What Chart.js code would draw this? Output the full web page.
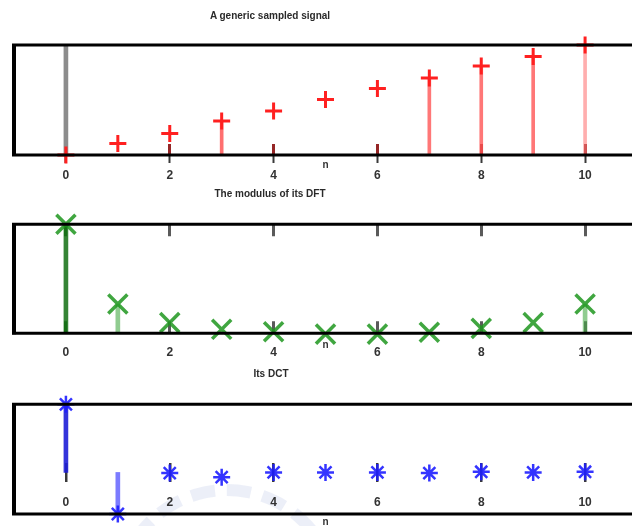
<!DOCTYPE html>
<html><head><meta charset="utf-8">
<script src="https://cdn.jsdelivr.net/npm/chart.js@4.4.1/dist/chart.umd.min.js"></script>
<style>
html,body{margin:0;padding:0;background:#fff;overflow:hidden;width:632px;height:526px;}
#wrap{position:relative;width:632px;height:526px;overflow:hidden;background:#fff;}
canvas{position:absolute;left:0;}
.t{position:absolute;font:bold 10px "Liberation Sans",Arial,sans-serif;color:#2a2a2a;transform:translate(-50%,-50%);white-space:nowrap;}
#wm{position:absolute;left:112px;top:484px;width:230px;height:230px;border-radius:50%;border:12px dashed rgba(170,182,222,0.22);box-sizing:border-box;}
</style></head><body>
<div id="wrap">
<div id="wm"></div>
<canvas id="c1" width="650" height="190" style="top:0"></canvas>
<canvas id="c2" width="650" height="180" style="top:190px"></canvas>
<canvas id="c3" width="650" height="156" style="top:370px"></canvas>
<div class="t" style="left:270px;top:15px">A generic sampled signal</div>
<div class="t" style="left:270px;top:193px">The modulus of its DFT</div>
<div class="t" style="left:271px;top:373px">Its DCT</div>
</div>
<script>
// ---- data ----
const n = [0, 1, 2, 3, 4, 5, 6, 7, 8, 9, 10];
const xTicks = [0, 2, 4, 6, 8, 10];
const xTickLabels = ['0', '2', '4', '6', '8', '10'];
const xLabel = 'n';
const signal = [0, 1.05, 1.95, 3.1, 4, 5.05, 6.05, 7, 8.1, 8.95, 10];
const signalGrayStemX = [0];
const signalGrayStemY = [10];
const dftModulus = [55, 14.8, 5.4, 2, 0.8, -0.4, -0.4, 0.5, 2.5, 5.4, 14.8];
const dct = [1.0, -0.61, -0.01, -0.07, 0, 0, 0, -0.01, 0.01, 0, 0.01];

const pts = (xs, ys) => xs.map((x, i) => ({x: x, y: ys[i]}));

const framePlugin = {
  id: 'frame',
  afterDraw(chart) {
    const {ctx, chartArea: a, width} = chart;
    ctx.save();
    ctx.strokeStyle = '#000';
    ctx.lineWidth = 3;
    ctx.beginPath();
    ctx.moveTo(a.left - 2, a.top); ctx.lineTo(width, a.top);
    ctx.moveTo(a.left - 2, a.bottom); ctx.lineTo(width, a.bottom);
    ctx.stroke();
    ctx.lineWidth = 4;
    ctx.beginPath();
    ctx.moveTo(a.left, a.top - 1); ctx.lineTo(a.left, a.bottom + 1);
    ctx.stroke();
    ctx.restore();
  }
};

const tickFont = {family: 'Liberation Sans', size: 12, weight: 'bold'};
const labelFont = {family: 'Liberation Sans', size: 10, weight: 'bold'};

function xScale(o) {
  return {
    type: 'linear', min: -1, max: 11, offset: false, z: 1,
    afterBuildTicks: s => { s.ticks = xTicks.map(v => ({value: v})); },
    afterFit: s => { s.height = o.h; },
    ticks: {color: '#333', font: tickFont, padding: o.pad, mirror: !!o.mirror, maxRotation: 0, autoSkip: false,
            callback: (v, i) => xTickLabels[i]},
    grid: {display: true, offset: false, drawOnChartArea: true, drawTicks: o.drawTicks, tickLength: 8,
           tickColor: '#3a3a3a', tickWidth: 2, lineWidth: o.gw, color: o.gc},
    border: {display: false, dash: o.dash},
    title: {display: true, text: xLabel, color: '#333', font: labelFont, padding: {top: 0, bottom: o.tpad}}
  };
}

function baseOptions(pad, xs, ymin, ymax) {
  return {
    responsive: false, animation: false, devicePixelRatio: 1,
    layout: {padding: pad, autoPadding: false},
    plugins: {legend: {display: false}, tooltip: {enabled: false}, title: {display: false}},
    scales: {x: xs, y: {display: false, min: ymin, max: ymax}}
  };
}

// ---- chart 1: sampled signal ----
const stem1Color = ctx => {
  const i = ctx.dataIndex;
  if (i === 3) return 'rgba(255,70,70,0.78)';
  if (i >= 7 && i <= 9) return 'rgba(255,85,85,0.8)';
  if (i === 10) return 'rgba(255,120,120,0.6)';
  return 'rgba(0,0,0,0)';
};
new Chart(document.getElementById('c1'), {
  type: 'bar',
  data: {datasets: [
    {type: 'scatter', data: pts(n, signal), pointStyle: 'cross', pointRadius: 8.5, pointBorderWidth: 3,
     pointBorderColor: '#ff2020', pointBackgroundColor: '#ff2020', clip: false},
    {type: 'bar', data: pts(n, signal), backgroundColor: stem1Color, barThickness: ctx => ctx.dataIndex === 10 ? 5 : 3,
     grouped: false, borderWidth: 0, clip: false},
    {type: 'bar', data: pts(signalGrayStemX, signalGrayStemY), backgroundColor: '#8c8c8c', barThickness: 4,
     grouped: false, borderWidth: 0}
  ]},
  options: baseOptions({left: 14, right: 13, top: 45, bottom: 0},
    xScale({h: 35, pad: 5, drawTicks: true, gw: 3, dash: [0, 99, 11, 1000], tpad: 19,
            gc: ctx => ctx.index === 0 ? '#5a0c0c' : '#952626'}), 0, 10),
  plugins: [framePlugin]
});

// ---- chart 2: DFT modulus ----
const stem2Color = ctx => {
  const i = ctx.dataIndex;
  if (i === 0) return 'rgba(25,115,25,0.88)';
  if (i === 1 || i === 10) return 'rgba(70,170,70,0.6)';
  return 'rgba(0,0,0,0)';
};
new Chart(document.getElementById('c2'), {
  type: 'bar',
  data: {datasets: [
    {type: 'scatter', data: pts(n, dftModulus), pointStyle: 'crossRot', pointRadius: 13.5, pointBorderWidth: 3.5,
     pointBorderColor: 'rgba(30,150,30,0.85)', pointBackgroundColor: 'rgba(30,150,30,0.85)', clip: false},
    {type: 'bar', data: pts(n, dftModulus), backgroundColor: stem2Color, barThickness: 4,
     grouped: false, borderWidth: 0, clip: false}
  ]},
  options: baseOptions({left: 14, right: 13, top: 34.3, bottom: 0},
    xScale({h: 36.7, pad: 12.5, drawTicks: false, gw: 3, dash: [12, 85, 12, 1000], tpad: 19,
            gc: ctx => ctx.index === 0 ? '#0b5d0b' : '#5a5a5a'}), 0, 55),
  plugins: [framePlugin]
});

// ---- chart 3: DCT ----
const stem3Color = ctx => {
  const i = ctx.dataIndex;
  if (i === 0) return 'rgba(30,30,215,0.9)';
  if (i === 1) return 'rgba(90,90,255,0.8)';
  return 'rgba(0,0,0,0)';
};
new Chart(document.getElementById('c3'), {
  type: 'bar',
  data: {datasets: [
    {type: 'scatter', data: pts(n, dct), pointStyle: 'star', pointRadius: 8.5, pointBorderWidth: 2.5,
     pointBorderColor: 'rgba(30,30,255,0.9)', pointBackgroundColor: 'rgba(30,30,255,0.9)', clip: false},
    {type: 'bar', data: pts(n, dct), backgroundColor: stem3Color, barThickness: 4,
     grouped: false, borderWidth: 0, clip: false}
  ]},
  options: baseOptions({left: 14, right: 13, top: 34.3, bottom: 0},
    xScale({h: 12, pad: 4, mirror: true, drawTicks: false, gw: 2.5, dash: [0, 58.7, 19, 1000], tpad: -2,
            gc: '#3a3a3a'}), -0.61, 1.0),
  plugins: [framePlugin]
});
</script>
</body></html>
